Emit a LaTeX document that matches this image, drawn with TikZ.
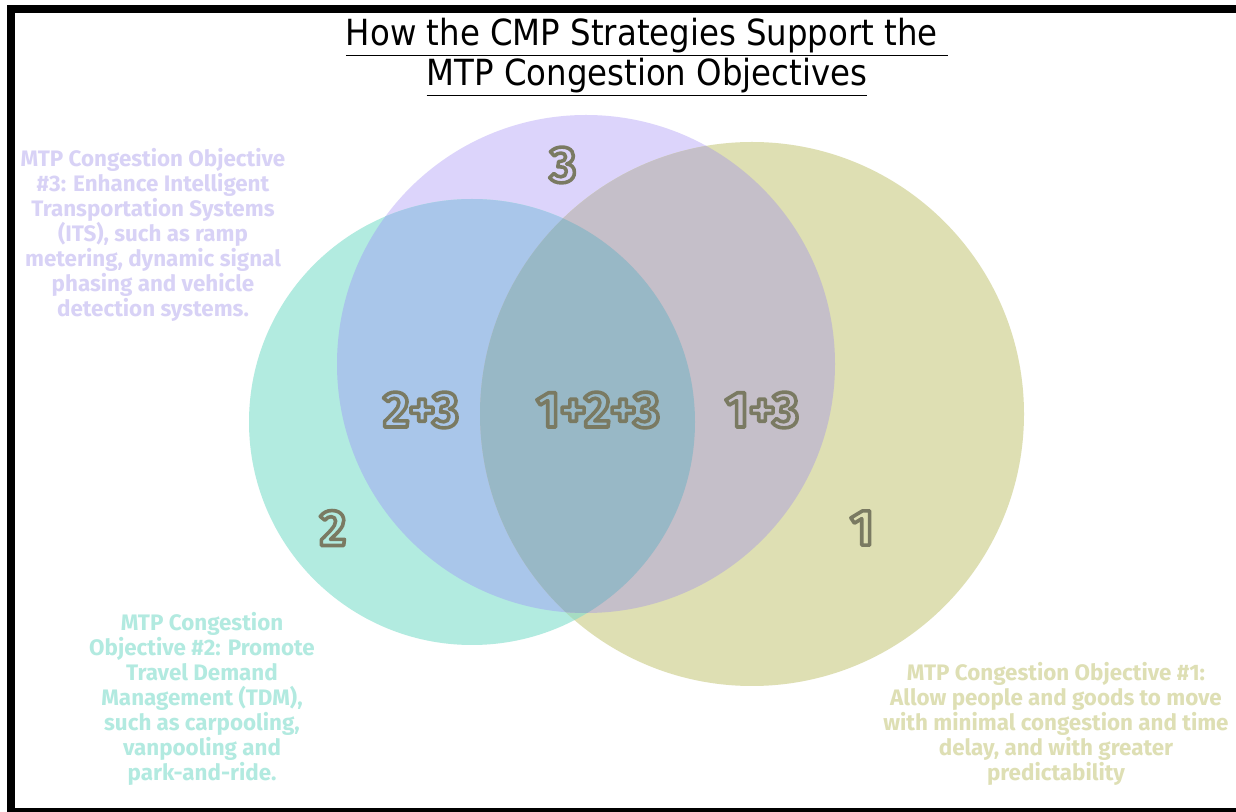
\documentclass[tikz,border=0pt]{standalone}
\usepackage{fontspec}
\setmainfont{Fira Sans}
\newfontfamily\titlefont{DejaVu Sans Condensed}
\definecolor{cLav}{HTML}{DCD4FB}
\definecolor{cTeal}{HTML}{B2EBE0}
\definecolor{cOlive}{HTML}{DEDFB3}
\definecolor{cTL}{HTML}{A9C6EA}
\definecolor{cLO}{HTML}{C5BFC9}
\definecolor{cTO}{HTML}{A6DCC2}
\definecolor{cAll}{HTML}{98B8C6}
\definecolor{cNum}{HTML}{7A7A62}
\definecolor{tLav}{HTML}{D8D2F6}
\definecolor{tTeal}{HTML}{B2EAE0}
\definecolor{tOlive}{HTML}{DEDFB4}
\newcommand{\outlinedtext}[1]{\special{pdf:literal direct 2 Tr 2.7 w 1 j 0.478 0.478 0.384 RG}#1\special{pdf:literal direct 0 Tr}}
\begin{document}
\begin{tikzpicture}[x=0.75pt,y=-0.75pt,
  objtext/.style={align=center,font=\fontsize{16.8pt}{18.75pt}\selectfont\bfseries},
  numlabel/.style={font=\fontsize{38pt}{38pt}\selectfont\bfseries},
  titletext/.style={align=center,font=\fontsize{27pt}{30pt}\selectfont\titlefont}]
\useasboundingbox (0,0) rectangle (1236,812);
\fill[white] (0,0) rectangle (1236,812);
% frame
\fill[black] (7,5) rectangle (1236,13);
\fill[black] (7,5) rectangle (15,812);
\fill[black] (7,808) rectangle (1236,812);
% circles
\def\circL{(586,364) circle[radius=249]}
\def\circT{(472,422) circle[radius=223]}
\def\circO{(752,414) circle[radius=272]}
\fill[cLav] \circL;
\fill[cTeal] \circT;
\fill[cOlive] \circO;
\begin{scope}\clip \circT; \fill[cTO] \circO; \end{scope}
\begin{scope}\clip \circT; \fill[cTL] \circL; \end{scope}
\begin{scope}\clip \circO; \fill[cLO] \circL; \end{scope}
\begin{scope}\clip \circT; \clip \circO; \fill[cAll] \circL; \end{scope}
% title
\node[titletext] (title) at (647,57) {\underline{How the CMP Strategies Support the\ }\\\underline{MTP Congestion Objectives}};
% number labels
\node[numlabel,text=cLav] (n3) at (563,165) {\outlinedtext{3}};
\node[numlabel,text=cTL] (n23) at (421,410) {\outlinedtext{2+3}};
\node[numlabel,text=cAll] (n123) at (598,410) {\outlinedtext{1+2+3}};
\node[numlabel,text=cLO] (n13) at (762,410) {\outlinedtext{1+3}};
\node[numlabel,text=cTeal] (n2) at (333,528) {\outlinedtext{2}};
\node[numlabel,text=cOlive] (n1) at (862,528) {\outlinedtext{1}};
% objective texts
\node[objtext,text=tLav] (o3) at (153,235) {MTP Congestion Objective\\\#3: Enhance Intelligent\\Transportation Systems\\(ITS), such as ramp\\metering, dynamic signal\\phasing and vehicle\\detection systems.};
\node[objtext,text=tTeal] (o2) at (202,699) {MTP Congestion\\Objective \#2: Promote\\Travel Demand\\Management (TDM),\\such as carpooling,\\vanpooling and\\park-and-ride.};
\node[objtext,text=tOlive] (o1) at (1056,724) {MTP Congestion Objective \#1:\\Allow people and goods to move\\with minimal congestion and time\\delay, and with greater\\predictability};
\end{tikzpicture}
\end{document}
